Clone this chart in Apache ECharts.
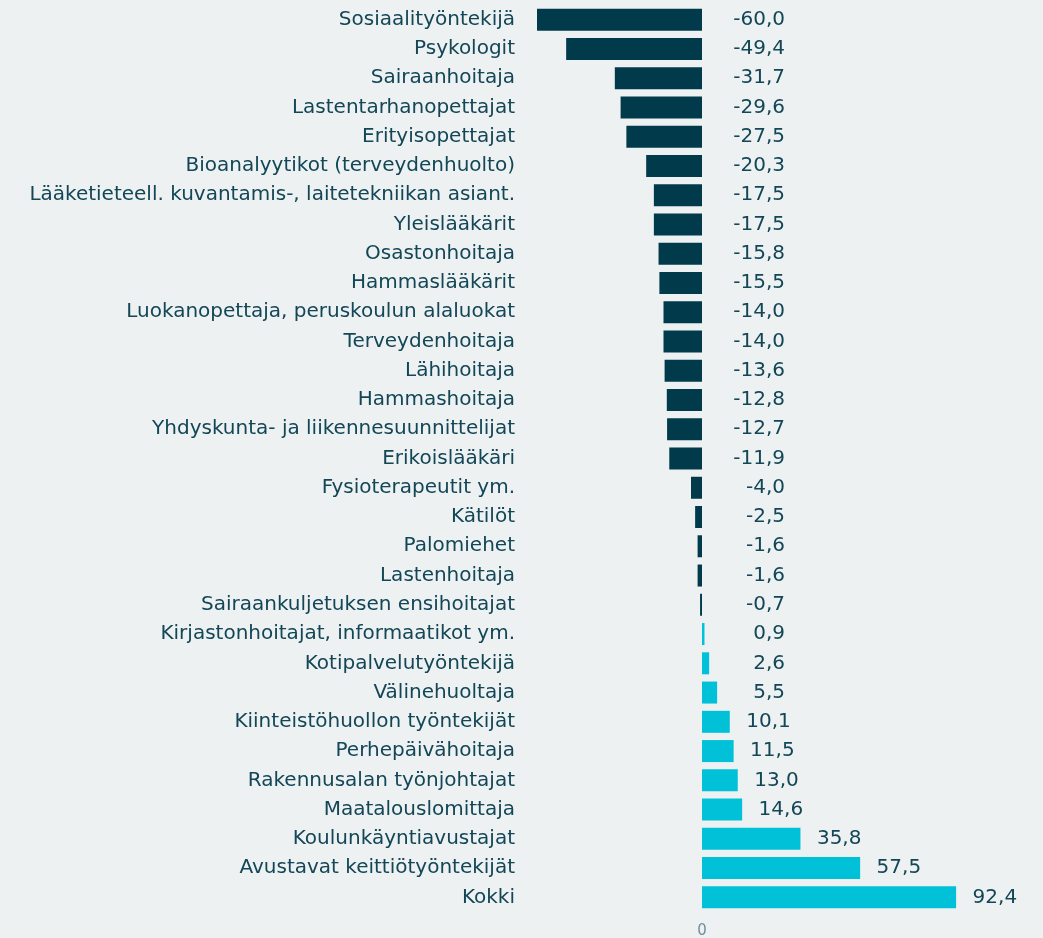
<!DOCTYPE html>
<html>
<head>
<meta charset="utf-8">
<script src="https://cdn.jsdelivr.net/npm/echarts@6/dist/echarts.min.js"></script>
<style>
  html, body { margin: 0; padding: 0; background: #edf1f2; }
  #chart { width: 1043px; height: 938px; }
</style>
</head>
<body>
<div id="chart"></div>
<script>
const categories = [
  'Sosiaalityöntekijä', 'Psykologit', 'Sairaanhoitaja', 'Lastentarhanopettajat',
  'Erityisopettajat', 'Bioanalyytikot (terveydenhuolto)',
  'Lääketieteell. kuvantamis-, laitetekniikan asiant.', 'Yleislääkärit',
  'Osastonhoitaja', 'Hammaslääkärit', 'Luokanopettaja, peruskoulun alaluokat',
  'Terveydenhoitaja', 'Lähihoitaja', 'Hammashoitaja',
  'Yhdyskunta- ja liikennesuunnittelijat', 'Erikoislääkäri',
  'Fysioterapeutit ym.', 'Kätilöt', 'Palomiehet', 'Lastenhoitaja',
  'Sairaankuljetuksen ensihoitajat', 'Kirjastonhoitajat, informaatikot ym.',
  'Kotipalvelutyöntekijä', 'Välinehuoltaja', 'Kiinteistöhuollon työntekijät',
  'Perhepäivähoitaja', 'Rakennusalan työnjohtajat', 'Maatalouslomittaja',
  'Koulunkäyntiavustajat', 'Avustavat keittiötyöntekijät', 'Kokki'
];
const values = [
  -60.0, -49.4, -31.7, -29.6, -27.5, -20.3, -17.5, -17.5, -15.8, -15.5,
  -14.0, -14.0, -13.6, -12.8, -12.7, -11.9, -4.0, -2.5, -1.6, -1.6,
  -0.7, 0.9, 2.6, 5.5, 10.1, 11.5, 13.0, 14.6, 35.8, 57.5, 92.4
];
const axisTicks = [0];

const negColor = '#013b4b';
const posColor = '#00c1d7';
const textColor = '#134656';
const font = 'DejaVu Sans';

const chart = echarts.init(document.getElementById('chart'));

function fmt(v) {
  return v.toFixed(1).replace('.', ',');
}

function buildData(distances) {
  return values.map((v, i) => ({
    value: v,
    itemStyle: { color: v < 0 ? negColor : posColor },
    label: { distance: distances ? distances[i] : 30 }
  }));
}

const option = {
  backgroundColor: '#edf1f2',
  animation: false,
  grid: {
    left: 537,
    right: 11,
    top: 5,
    bottom: 26,
    outerBoundsMode: 'none'
  },
  xAxis: {
    type: 'value',
    min: -60,
    max: 120,
    interval: 60,
    splitLine: { show: false },
    axisLine: { show: false },
    axisTick: { show: false },
    axisLabel: {
      color: '#6f8f9b',
      fontFamily: font,
      fontSize: 15,
      margin: 12,
      formatter: v => (axisTicks.indexOf(v) >= 0 ? String(v) : '')
    }
  },
  yAxis: {
    type: 'category',
    data: categories,
    inverse: true,
    axisLine: { show: false },
    axisTick: { show: false },
    axisLabel: {
      color: textColor,
      fontFamily: font,
      fontSize: 20,
      margin: 22
    }
  },
  series: [{
    type: 'bar',
    barWidth: 22,
    data: buildData(null),
    label: {
      show: true,
      position: 'right',
      align: 'right',
      color: textColor,
      fontFamily: font,
      fontSize: 20,
      formatter: p => fmt(p.value)
    }
  }]
};

chart.setOption(option);

// value labels sit in a right-aligned column, pushed out past long bars
const zeroPx = chart.convertToPixel({ xAxisIndex: 0 }, 0);
const distances = values.map(v => {
  const endPx = chart.convertToPixel({ xAxisIndex: 0 }, Math.max(v, 0));
  const rightEdge = Math.max(zeroPx + 83, endPx + 61);
  return rightEdge - endPx;
});
chart.setOption({ series: [{ data: buildData(distances) }] });
</script>
</body>
</html>
